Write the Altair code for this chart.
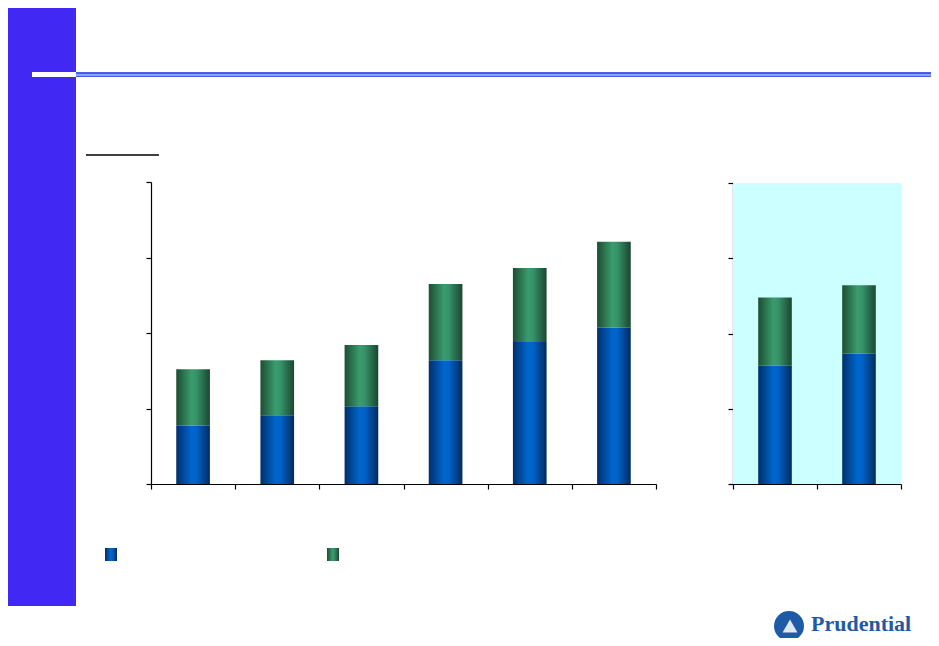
import altair as alt
import pandas as pd

# ---- data ----
left_cats = ["P1", "P2", "P3", "P4", "P5", "P6"]
left_blue = [0.77, 0.91, 1.03, 1.64, 1.88, 2.07]
left_total = [1.52, 1.64, 1.84, 2.65, 2.86, 3.21]

right_cats = ["Q1", "Q2"]
right_blue = [1.57, 1.73]
right_total = [2.48, 2.64]

y_ticks = [0, 1, 2, 3, 4]

left_df = pd.DataFrame({"cat": left_cats, "blue": left_blue, "total": left_total})
right_df = pd.DataFrame({"cat": right_cats, "blue": right_blue, "total": right_total})

BLUE_GRAD = alt.Gradient(
    gradient="linear", x1=0, x2=1, y1=0, y2=0,
    stops=[alt.GradientStop(offset=0, color="#002f6c"),
           alt.GradientStop(offset=0.45, color="#0066cc"),
           alt.GradientStop(offset=0.6, color="#0062c8"),
           alt.GradientStop(offset=1, color="#002a60")])
GREEN_GRAD = alt.Gradient(
    gradient="linear", x1=0, x2=1, y1=0, y2=0,
    stops=[alt.GradientStop(offset=0, color="#1d4d33"),
           alt.GradientStop(offset=0.45, color="#3a9c6c"),
           alt.GradientStop(offset=0.6, color="#36926a"),
           alt.GradientStop(offset=1, color="#1a4630")])

dummy = pd.DataFrame({"a": [0]})

def deco_rect(x, x2, y, y2, color):
    return alt.Chart(dummy).mark_rect(color=color).encode(
        x=alt.value(x), x2=alt.value(x2), y=alt.value(y), y2=alt.value(y2))

# decorations (chart coordinates = page - 8)
sidebar = deco_rect(0, 68, 0, 598, "#4128f2")
white_tab = deco_rect(24, 68, 64, 69, "#ffffff")
line_top = deco_rect(68, 923, 64, 66, "#4a5ee8")
line_mid = deco_rect(68, 923, 66, 68, "#84a4ff")
line_bot = deco_rect(68, 923, 68, 69, "#4a5ee8")
underline = alt.Chart(dummy).mark_rule(color="#000000", strokeWidth=1.5).encode(
    x=alt.value(78), x2=alt.value(151), y=alt.value(147))
leg_blue = alt.Chart(dummy).mark_rect(color=BLUE_GRAD).encode(
    x=alt.value(97), x2=alt.value(109), y=alt.value(540), y2=alt.value(553))
leg_green = alt.Chart(dummy).mark_rect(color=GREEN_GRAD).encode(
    x=alt.value(319), x2=alt.value(331), y=alt.value(540), y2=alt.value(553))
logo_circle = alt.Chart(dummy).mark_point(
    shape="circle", size=900, filled=True, opacity=1, color="#1f5aa6").encode(
    x=alt.value(781), y=alt.value(618))
logo_inner = alt.Chart(dummy).mark_point(
    shape="triangle-up", size=220, filled=True, opacity=1, color="#dfe8f5").encode(
    x=alt.value(782), y=alt.value(618))
logo_text = alt.Chart(dummy).mark_text(
    text="Prudential", font="Liberation Serif", fontWeight="bold", fontSize=22,
    color="#1f5aa6", align="left", baseline="middle").encode(
    x=alt.value(803), y=alt.value(616))

axis_common = dict(labels=False, title=None, domainColor="#000000", tickColor="#000000",
                   domainWidth=1.2, tickWidth=1.2, tickSize=5, grid=False)

BAR_W = alt.RelativeBandSize(0.4)

# left panel
lx = alt.X("cat:N", sort=left_cats,
           scale=alt.Scale(range=[143, 648], paddingInner=0, paddingOuter=0),
           axis=alt.Axis(orient="bottom", tickBand="extent", **axis_common))
ly = alt.Y("blue:Q", scale=alt.Scale(domain=[0, 4], range=[476, 174], nice=False),
           axis=alt.Axis(orient="left", offset=-143, values=y_ticks, **axis_common))
left_blue_l = alt.Chart(left_df).mark_bar(color=BLUE_GRAD, width=BAR_W).encode(
    x=lx, y=ly, y2=alt.Y2(datum=0))
left_green_l = alt.Chart(left_df).mark_bar(color=GREEN_GRAD, width=BAR_W).encode(
    x=lx, y=ly, y2="total:Q")
left = alt.layer(left_blue_l, left_green_l)

# right panel
rx = alt.X("cat:N", sort=right_cats,
           scale=alt.Scale(range=[725, 893], paddingInner=0, paddingOuter=0),
           axis=alt.Axis(orient="bottom", tickBand="extent", **axis_common))
ry = alt.Y("blue:Q", scale=alt.Scale(domain=[0, 4], range=[476, 175], nice=False),
           axis=alt.Axis(orient="left", offset=-725, values=y_ticks, **axis_common))
right_bg = alt.Chart(dummy).mark_rect(color="#ccffff").encode(
    x=alt.value(725), x2=alt.value(893), y=alt.value(175), y2=alt.value(476))
right_blue_l = alt.Chart(right_df).mark_bar(color=BLUE_GRAD, width=BAR_W).encode(
    x=rx, y=ry, y2=alt.Y2(datum=0))
right_green_l = alt.Chart(right_df).mark_bar(color=GREEN_GRAD, width=BAR_W).encode(
    x=rx, y=ry, y2="total:Q")
right = alt.layer(right_blue_l, right_green_l)

chart = alt.layer(
    sidebar, white_tab, line_top, line_mid, line_bot, underline,
    right_bg, left, right,
    leg_blue, leg_green, logo_circle, logo_inner, logo_text,
).resolve_scale(x="independent", y="independent").resolve_axis(
    x="independent", y="independent"
).properties(
    width=923, height=476,
    padding={"left": 0, "top": 0, "right": 0, "bottom": 154},
    autosize=alt.AutoSizeParams(type="none"),
    background="#ffffff",
).configure_view(stroke=None)

chart.save("out.html", embed_options={"renderer": "svg", "actions": False})
